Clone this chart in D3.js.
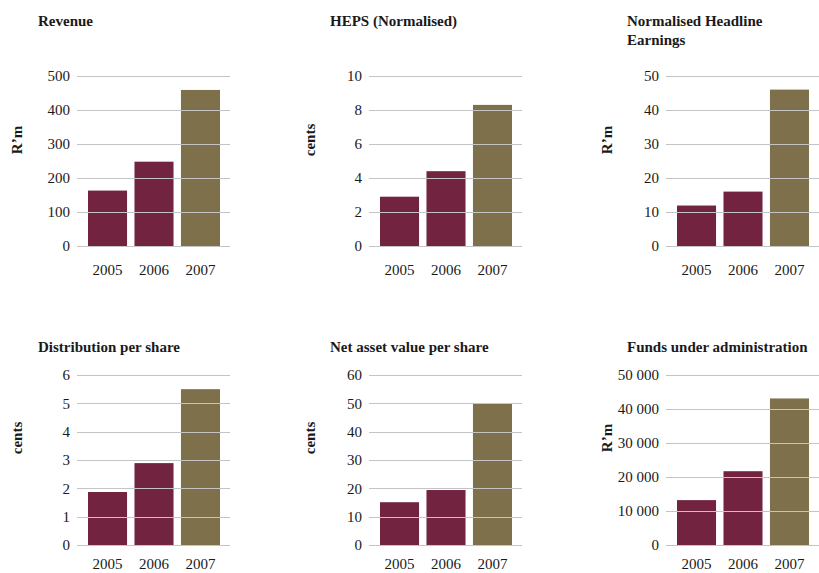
<!DOCTYPE html>
<html>
<head>
<meta charset="utf-8">
<script src="https://cdn.jsdelivr.net/npm/d3@7"></script>
<style>
  body { margin: 0; background: #fff; }
  svg text { font-family: "Liberation Serif", "DejaVu Serif", serif; fill: #1a1a1a; }
</style>
</head>
<body>
<svg id="chart" width="819" height="573"></svg>
<script>
// chart values
const years = ["2005", "2006", "2007"];
const revenue = [163, 248, 459];
const heps = [2.9, 4.4, 8.3];
const headlineEarnings = [11.9, 16, 46];
const distribution = [1.87, 2.89, 5.5];
const navPerShare = [15.1, 19.4, 49.8];
const funds = [13200, 21700, 43100];

const titles = ["Revenue", "HEPS (Normalised)", "Normalised Headline|Earnings",
                "Distribution per share", "Net asset value per share", "Funds under administration"];
const units = ["R\u2019m", "cents", "R\u2019m", "cents", "cents", "R\u2019m"];
const yMax = [500, 10, 50, 6, 60, 50000];
const yStep = [100, 2, 10, 1, 10, 10000];
const seriesList = [revenue, heps, headlineEarnings, distribution, navPerShare, funds];

const maroon = "#722340", olive = "#7e704b", gridColor = "#c4c4c4";
const spaceFmt = d3.formatLocale({decimal: ".", thousands: " ", grouping: [3], currency: ["", ""]}).format(",");

// layout per column / row
const barStart = [88, 380, 677];
const rowZero = [246, 545];
const rowTop = [76, 375];
const titleBase = [26, 352];
const titleX = [38, 330, 627];
const unitX = [22, 315, 612];
const unitY = [140, 438];
const yearBase = [275, 569];

const svg = d3.select("#chart");

seriesList.forEach((vals, i) => {
  const col = i % 3, row = Math.floor(i / 3);
  const g = svg.append("g");
  const gx0 = barStart[col] - 11, gx1 = Math.min(barStart[col] + 142, 819);

  const x = d3.scaleBand().domain(years)
    .range([barStart[col], barStart[col] + 132])
    .paddingInner(0.16).paddingOuter(0);
  const y = d3.scaleLinear().domain([0, yMax[i]]).range([rowZero[row], rowTop[row]]);

  g.selectAll("rect").data(vals).enter().append("rect")
    .attr("x", (d, j) => x(years[j]))
    .attr("y", d => y(d))
    .attr("width", x.bandwidth())
    .attr("height", d => y(0) - y(d))
    .attr("fill", (d, j) => j === 2 ? olive : maroon);

  const ticks = d3.range(0, yMax[i] + yStep[i] / 2, yStep[i]);
  g.selectAll("line.grid").data(ticks).enter().append("line")
    .attr("class", "grid")
    .attr("x1", gx0).attr("x2", gx1)
    .attr("y1", d => Math.round(y(d)) + 0.5).attr("y2", d => Math.round(y(d)) + 0.5)
    .attr("stroke", gridColor).attr("stroke-width", 1.2);

  g.selectAll("text.tick").data(ticks).enter().append("text")
    .attr("class", "tick")
    .attr("x", gx0 - 7).attr("y", d => y(d))
    .attr("dy", "0.35em")
    .attr("text-anchor", "end")
    .style("font-size", "15px")
    .text(d => i === 5 ? spaceFmt(d) : d);

  g.selectAll("text.year").data(years).enter().append("text")
    .attr("class", "year")
    .attr("x", d => x(d) + x.bandwidth() / 2)
    .attr("y", yearBase[row])
    .attr("text-anchor", "middle")
    .style("font-size", "15px")
    .text(d => d);

  const t = g.append("text")
    .attr("x", titleX[col]).attr("y", titleBase[row])
    .style("font-size", "15px").style("font-weight", "bold");
  titles[i].split("|").forEach((line, k) => {
    t.append("tspan").attr("x", titleX[col]).attr("dy", k === 0 ? 0 : 19).text(line);
  });

  g.append("text")
    .attr("transform", `translate(${unitX[col]},${unitY[row]}) rotate(-90)`)
    .attr("text-anchor", "middle")
    .style("font-size", "15px").style("font-weight", "bold")
    .text(units[i]);
});
</script>
</body>
</html>
